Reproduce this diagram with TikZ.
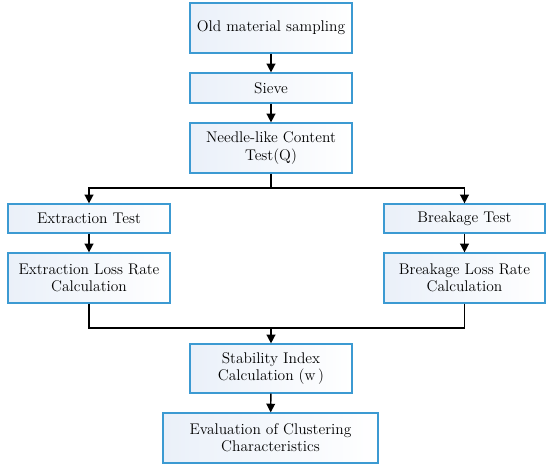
\documentclass[tikz,border=0pt]{standalone}
\usepackage{tikz}
\usetikzlibrary{arrows.meta,calc,positioning}
\definecolor{boxline}{HTML}{3C9AD2}
\definecolor{boxfill}{HTML}{EAF0F9}

\begin{document}
\begin{tikzpicture}[x=0.75pt,y=-0.75pt,
    stepbox/.style={draw=boxline,line width=0.9pt,left color=boxfill,right color=white,
      align=center,inner sep=0pt,minimum height=#1*0.75pt,font=\fontsize{11.6}{13}\selectfont},
    stepbox/.default=30,
    flow/.style={-{Triangle[length=6.5pt,width=6.5pt]},line width=1.1pt},
    link/.style={line width=1.1pt}]
    \useasboundingbox (0,0) rectangle (550,468);
    \node[stepbox=50,minimum width=162*0.75pt] (old) at (271,28) {Old material sampling};
    \node[stepbox=30,minimum width=162*0.75pt] (sieve) at (271,88) {Sieve};
    \node[stepbox=50,minimum width=162*0.75pt] (needle) at (271,148) {Needle-like Content\\Test(Q)};
    \node[stepbox=29,minimum width=162*0.75pt] (ext) at (89,218.5) {Extraction Test};
    \node[stepbox=50,minimum width=162*0.75pt] (extloss) at (89,278) {Extraction Loss Rate\\Calculation};
    \node[stepbox=29,minimum width=161*0.75pt] (brk) at (464.5,218.5) {Breakage Test};
    \node[stepbox=50,minimum width=161*0.75pt] (brkloss) at (464.5,278) {Breakage Loss Rate\\Calculation};
    \node[stepbox=49,minimum width=162*0.75pt] (stab) at (271,368.5) {Stability Index\\Calculation (w\,)};
    \node[stepbox=50,minimum width=215*0.75pt] (eval) at (270.5,438) {Evaluation of Clustering\\Characteristics};
    \coordinate (split) at (271,188);
    \coordinate (merge) at (271,328);
    % top chain
    \draw[flow] (old) -- (sieve);
    \draw[flow] (sieve) -- (needle);
    \draw[link] (needle) -- (split);
    \draw[flow] (split) -| (ext);
    \draw[flow] (split) -| (brk);
    \draw[flow] (ext) -- (extloss);
    \draw[flow] (brk) -- (brkloss);
    % join
    \draw[link] (extloss) |- (merge);
    \draw[link] (brkloss) |- (merge);
    \draw[flow] (merge) -- (stab);
    \draw[flow] (stab) -- (eval);
\end{tikzpicture}
\end{document}
